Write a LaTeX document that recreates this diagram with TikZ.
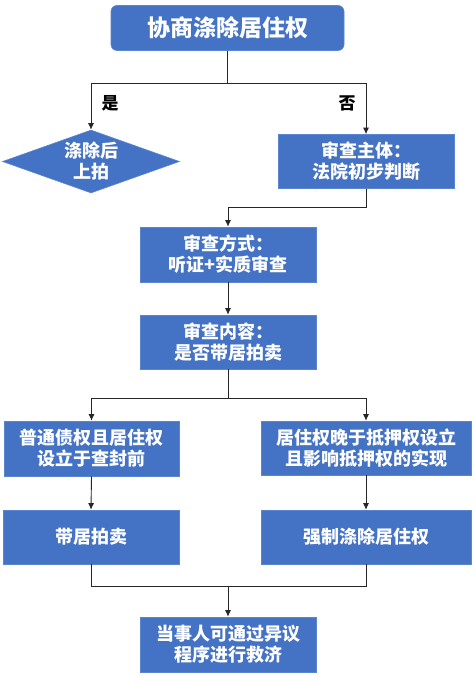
\documentclass[tikz,border=0pt]{standalone}
\usepackage{fontspec}
\setmainfont{Noto Sans CJK SC}
\usetikzlibrary{arrows.meta,shapes.geometric}
\definecolor{boxblue}{HTML}{4472C4}
\definecolor{boxedge}{HTML}{5A86CF}
\begin{document}
\begin{tikzpicture}[x=1pt,y=-1pt,
  box/.style={rectangle,fill=boxblue,draw=boxedge,line width=0.6pt,text=white,font=\bfseries\fontsize{18}{21}\selectfont,align=center,inner sep=0pt},
  lbl/.style={font=\bfseries\fontsize{17}{19}\selectfont,text=black},
  conn/.style={draw=black!85,line width=0.9pt},
  arr/.style={conn,-{Latex[length=6.5pt,width=6pt]}}]
\useasboundingbox[fill=white] (0,0) rectangle (475,676);
\node[box,rounded corners=6pt,minimum width=233pt,minimum height=45pt,font=\bfseries\fontsize{23}{26}\selectfont] (top) at (227.5,28) {协商涤除居住权};
\node[diamond,fill=boxblue,draw=boxedge,line width=0.6pt,aspect=2.8,minimum width=177pt,minimum height=63pt,inner sep=0pt,text=white,font=\bfseries\fontsize{18}{21}\selectfont,align=center] (d) at (91,161.5) {涤除后\\上拍};
\node[box,minimum width=176pt,minimum height=54pt] (b1) at (366,161.5) {审查主体：\\法院初步判断};
\node[box,minimum width=176pt,minimum height=55pt] (b2) at (228,254.5) {审查方式：\\听证+实质审查};
\node[box,minimum width=176pt,minimum height=54pt] (b3) at (228,342) {审查内容：\\是否带居拍卖};
\node[box,minimum width=175pt,minimum height=55pt] (b4) at (91.5,448.5) {普通债权且居住权\\设立于查封前};
\node[box,minimum width=210pt,minimum height=54pt] (b5) at (366,448) {居住权晚于抵押权设立\\且影响抵押权的实现};
\node[box,minimum width=176pt,minimum height=54pt] (b6) at (91,537) {带居拍卖};
\node[box,minimum width=210pt,minimum height=54pt] (b7) at (366,537) {强制涤除居住权};
\node[box,minimum width=176pt,minimum height=55pt] (b8) at (228,644.5) {当事人可通过异议\\程序进行救济};
\node[lbl] (yes) at (110,103) {是};
\node[lbl] (no) at (347,103) {否};
% connectors
\draw[conn] (top.south) -- ++(0,32.5) coordinate (j1);
\draw[arr] (j1) -| (d.north);
\draw[arr] (j1) -| (b1.north);
\draw[arr] (b1.south) -- ++(0,19) -| (b2.north);
\draw[arr] (b2.south) -- (b3.north);
\draw[conn] (b3.south) -- ++(0,29) coordinate (j3);
\draw[arr] (j3) -| (b4.north);
\draw[arr] (j3) -| (b5.north);
\draw[arr] (b4.south) -- (b6.north);
\draw[arr] (b5.south) -- (b7.north);
\draw[conn] (b6.south) -- ++(0,22) coordinate (j4) -| (b7.south);
\draw[arr] (j4 -| b8.north) -- (b8.north);
\end{tikzpicture}
\end{document}
